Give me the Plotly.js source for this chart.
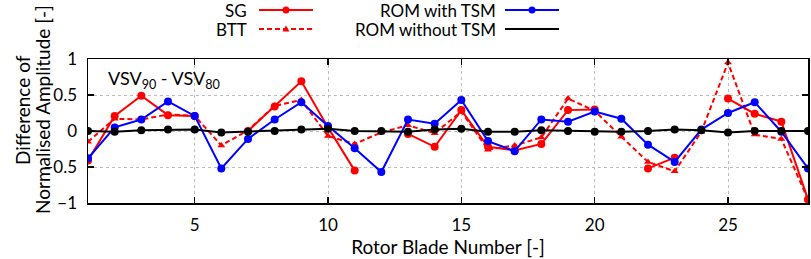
<!DOCTYPE html>
<html>
<head>
<meta charset="utf-8">
<script src="https://cdn.plot.ly/plotly-3.0.1.min.js"></script>
<style>html,body{margin:0;padding:0;background:#fff;}#chart{width:811px;height:259px;}</style>
</head>
<body>
<div id="chart"></div>
<script>
// Data
const bladeNumbers = [1,2,3,4,5,6,7,8,9,10,11,12,13,14,15,16,17,18,19,20,21,22,23,24,25,26,27,28];
const sgValues = [-0.41, 0.21, 0.49, 0.22, 0.21, null, 0.00, 0.34, 0.69, 0.05, -0.55, null, -0.04, -0.22, 0.29, -0.22, -0.27, -0.18, 0.29, 0.30, null, -0.52, -0.37, null, 0.45, 0.24, 0.13, -0.95];
const bttValues = [-0.15, 0.17, 0.16, 0.23, 0.21, -0.20, 0.01, 0.35, 0.43, -0.07, -0.18, -0.02, 0.08, -0.03, 0.27, -0.26, -0.20, -0.09, 0.45, 0.28, -0.08, -0.43, -0.56, -0.01, 0.95, -0.05, -0.11, -0.95];
const romWithTsm = [-0.38, 0.05, 0.16, 0.41, 0.21, -0.52, -0.11, 0.16, 0.40, 0.07, -0.24, -0.57, 0.16, 0.10, 0.43, -0.14, -0.28, 0.16, 0.13, 0.27, 0.17, -0.19, -0.43, 0.02, 0.25, 0.40, -0.01, -0.52];
const romWithoutTsm = [0.00, -0.01, 0.01, 0.02, 0.02, -0.02, -0.01, 0.00, 0.02, 0.03, 0.00, 0.00, -0.01, 0.02, 0.03, -0.01, -0.01, 0.01, 0.00, -0.01, -0.01, 0.00, 0.02, 0.01, -0.02, 0.00, 0.00, 0.00];
const seriesNames = ["SG", "BTT", "ROM with TSM", "ROM without TSM"];
const xTickVals = [5, 10, 15, 20, 25];
const yTickVals = [-1, -0.5, 0, 0.5, 1];
const xTitle = "Rotor Blade Number [-]";
const yTitleLines = ["Difference of", "Normalised Amplitude [-]"];
const caseLabel = "VSV<sub>90</sub> - VSV<sub>80</sub>";

const FONT = "Lato, 'Open Sans', sans-serif";
const RED = "#ff0000", BLUE = "#0000ff", BLACK = "#000000";
const SHORT_DASH = "5px,3px";

const W = 811, H = 259;
const M = {l: 88, r: 3, t: 59, b: 56};
const PW = W - M.l - M.r, PH = H - M.t - M.b;
const px2x = p => (p - M.l) / PW;
const py2y = p => (H - M.b - p) / PH;

const traces = [
  {x: bladeNumbers, y: bttValues, name: seriesNames[1], mode: "lines+markers",
   line: {color: RED, width: 2, dash: SHORT_DASH}, marker: {symbol: "triangle-up", size: 7, color: RED}, connectgaps: false},
  {x: bladeNumbers, y: sgValues, name: seriesNames[0], mode: "lines+markers",
   line: {color: RED, width: 2}, marker: {symbol: "circle", size: 8, color: RED}, connectgaps: false},
  {x: bladeNumbers, y: romWithTsm, name: seriesNames[2], mode: "lines+markers",
   line: {color: BLUE, width: 2}, marker: {symbol: "circle", size: 8, color: BLUE}},
  {x: bladeNumbers, y: romWithoutTsm, name: seriesNames[3], mode: "lines+markers",
   line: {color: BLACK, width: 2}, marker: {symbol: "circle", size: 8, color: BLACK}}
];

// Custom gnuplot-style legend (text right-aligned, sample to its right)
const legendRows = [
  {name: seriesNames[0], textRight: 249, lineX0: 259, lineX1: 313, y: 10, color: RED, dash: "solid", sym: "circle"},
  {name: seriesNames[1], textRight: 249, lineX0: 259, lineX1: 313, y: 29, color: RED, dash: SHORT_DASH, sym: "triangle"},
  {name: seriesNames[2], textRight: 498, lineX0: 505, lineX1: 559, y: 10, color: BLUE, dash: "solid", sym: "circle"},
  {name: seriesNames[3], textRight: 498, lineX0: 505, lineX1: 559, y: 29, color: BLACK, dash: "solid", sym: "none"}
];
const shapes = [];
const annotations = [];
legendRows.forEach(r => {
  annotations.push({xref: "paper", yref: "paper", x: px2x(r.textRight), y: py2y(r.y),
    xanchor: "right", yanchor: "middle", showarrow: false, text: r.name,
    font: {family: FONT, size: 17, color: "#000"}});
  shapes.push({type: "line", xref: "paper", yref: "paper", x0: px2x(r.lineX0), x1: px2x(r.lineX1),
    y0: py2y(r.y), y1: py2y(r.y), line: {color: r.color, width: 2, dash: r.dash}});
  const cx = px2x((r.lineX0 + r.lineX1) / 2), cy = py2y(r.y);
  if (r.sym === "circle") {
    shapes.push({type: "circle", xref: "paper", yref: "paper", xsizemode: "pixel", ysizemode: "pixel",
      xanchor: cx, yanchor: cy, x0: -3.5, x1: 3.5, y0: -3.5, y1: 3.5,
      fillcolor: r.color, line: {color: r.color, width: 0}});
  } else if (r.sym === "triangle") {
    shapes.push({type: "path", xref: "paper", yref: "paper", xsizemode: "pixel", ysizemode: "pixel",
      xanchor: cx, yanchor: cy, path: "M -3.5 -2.5 L 3.5 -2.5 L 0 3.5 Z",
      fillcolor: r.color, line: {color: r.color, width: 0}});
  }
});

annotations.push({xref: "paper", yref: "paper", x: px2x(106), y: py2y(79), xanchor: "left", yanchor: "middle",
  showarrow: false, text: caseLabel, font: {family: FONT, size: 18, color: "#000"}});

// Y-axis title as two rotated lines (tight gnuplot-like line spacing)
const yTitleX = [22, 42];
yTitleLines.forEach((t, i) => {
  annotations.push({xref: "paper", yref: "paper", x: px2x(yTitleX[i]), y: py2y(110),
    xanchor: "center", yanchor: "middle", textangle: -90, showarrow: false, text: t,
    font: {family: FONT, size: 19, color: "#000"}});
});

const layout = {
  width: W, height: H,
  margin: M,
  paper_bgcolor: "#fff", plot_bgcolor: "#fff",
  showlegend: false,
  font: {family: FONT, size: 17, color: "#000"},
  xaxis: {
    range: [1, 28], tickvals: xTickVals, ticks: "inside", ticklen: 6, tickwidth: 1.2, tickcolor: "#000",
    showline: true, linecolor: "#000", linewidth: 1.5, mirror: "ticks",
    showgrid: true, gridcolor: "#bdbdbd", griddash: "dot", gridwidth: 1, zeroline: false,
    ticklabelstandoff: 6,
    title: {text: xTitle, font: {family: FONT, size: 19}, standoff: 5}
  },
  yaxis: {
    range: [-1, 1], tickvals: yTickVals, ticks: "inside", ticklen: 6, tickwidth: 1.2, tickcolor: "#000",
    showline: true, linecolor: "#000", linewidth: 1.5, mirror: "ticks",
    showgrid: true, gridcolor: "#bdbdbd", griddash: "dot", gridwidth: 1, zeroline: false,
    ticklabelstandoff: 6
  },
  shapes: shapes,
  annotations: annotations
};

Plotly.newPlot("chart", traces, layout, {displayModeBar: false, staticPlot: true});
</script>
</body>
</html>
